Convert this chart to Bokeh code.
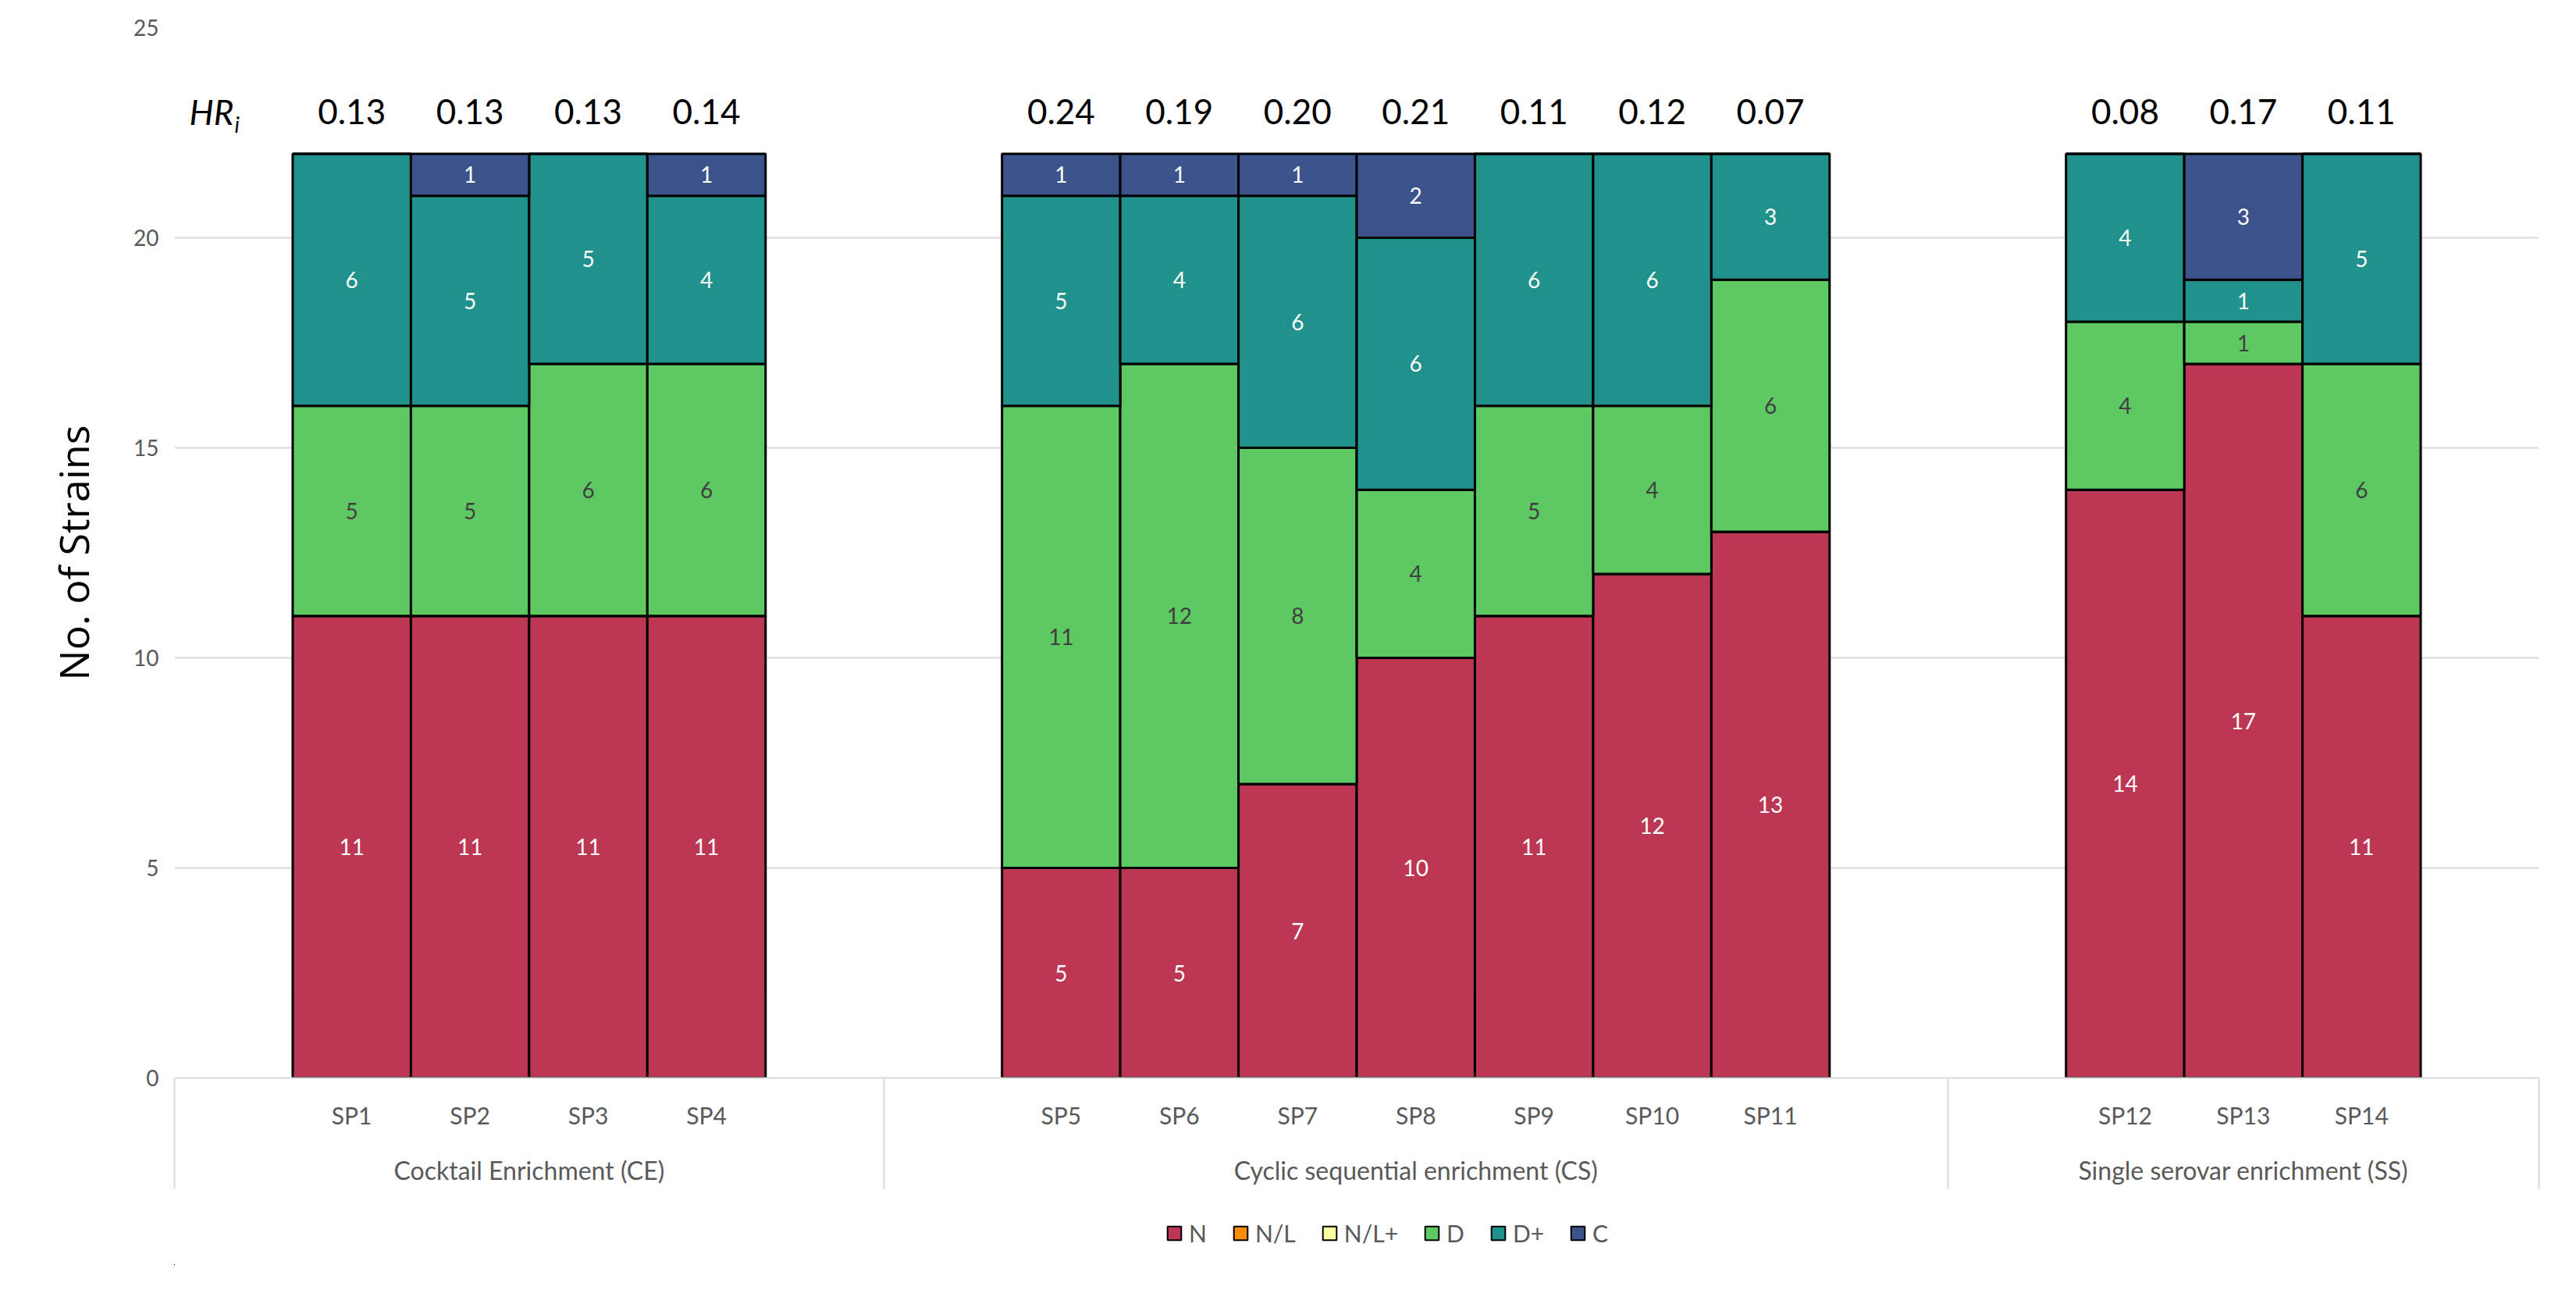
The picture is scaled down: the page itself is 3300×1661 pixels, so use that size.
from bokeh.plotting import figure
from bokeh.layouts import column
from bokeh.models import (ColumnDataSource, FixedTicker, LinearAxis, Range1d, Legend,
                          LegendItem, Grid)
from bokeh.core.properties import value
from bokeh.embed import file_html
from bokeh.resources import INLINE

# ---------------- data ----------------
groups = ["Cocktail Enrichment (CE)", "Cyclic sequential enrichment (CS)",
          "Single serovar enrichment (SS)"]
group_samples = [["SP1", "SP2", "SP3", "SP4"],
                 ["SP5", "SP6", "SP7", "SP8", "SP9", "SP10", "SP11"],
                 ["SP12", "SP13", "SP14"]]
series_names = ["N", "N/L", "N/L+", "D", "D+", "C"]
N_vals   = [11, 11, 11, 11, 5, 5, 7, 10, 11, 12, 13, 14, 17, 11]
NL_vals  = [0, 0, 0, 0, 0, 0, 0, 0, 0, 0, 0, 0, 0, 0]
NLp_vals = [0, 0, 0, 0, 0, 0, 0, 0, 0, 0, 0, 0, 0, 0]
D_vals   = [5, 5, 6, 6, 11, 12, 8, 4, 5, 4, 6, 4, 1, 6]
Dp_vals  = [6, 5, 5, 4, 5, 4, 6, 6, 6, 6, 3, 4, 1, 5]
C_vals   = [0, 1, 0, 1, 1, 1, 1, 2, 0, 0, 0, 0, 3, 0]
HR_vals  = [0.13, 0.13, 0.13, 0.14, 0.24, 0.19, 0.20, 0.21, 0.11, 0.12, 0.07, 0.08, 0.17, 0.11]
y_ticks = [0, 5, 10, 15, 20, 25]

# ---------------- styles ----------------
colors = {"N": "#BC3754", "N/L": "#F98C0A", "N/L+": "#FCFFA4",
          "D": "#5EC962", "D+": "#21918C", "C": "#3B528B"}
label_colors = {"N": "white", "N/L": "#404040", "N/L+": "#404040",
                "D": "#404040", "D+": "white", "C": "white"}
FONT = "Lato"
GRAY = "#595959"
LIGHT = "#D9D9D9"

# ---------------- category positions (one empty slot around each group) ----------------
samples, xpos, group_centers, separators = [], [], [], []
slot = 0
separators.append(slot - 0.5)
for g, names in zip(groups, group_samples):
    start = slot
    slot += 1
    for nm in names:
        samples.append(nm)
        xpos.append(slot)
        slot += 1
    slot += 1
    group_centers.append((start + slot - 1) / 2)
    separators.append(slot - 0.5)
n_slots = slot

p = figure(width=3284, height=1530, output_backend="svg", toolbar_location=None,
           x_range=Range1d(-0.5, n_slots - 0.5), y_range=Range1d(0, 25),
           x_axis_type=None, y_axis_type=None,
           min_border_left=223, min_border_right=32, min_border_top=35, min_border_bottom=150)
p.outline_line_color = None
p.background_fill_color = "white"
p.border_fill_color = "white"

# y axis
yaxis = LinearAxis(ticker=FixedTicker(ticks=y_ticks), axis_line_color=None,
                   major_tick_line_color=None, minor_tick_line_color=None,
                   major_tick_out=0, major_tick_in=0, minor_tick_out=0, minor_tick_in=0,
                   major_label_text_font=FONT, major_label_text_font_size="28px",
                   major_label_text_color=GRAY, major_label_standoff=20,
                   axis_label="No. of Strains", axis_label_text_font="Open Sans",
                   axis_label_text_font_size="52px", axis_label_text_font_style="normal",
                   axis_label_text_color="black", axis_label_standoff=39)
p.add_layout(yaxis, "left")
p.add_layout(Grid(dimension=1, ticker=yaxis.ticker, grid_line_color=LIGHT, grid_line_width=2))

# x axis (sample labels) with group separators as minor ticks
xaxis = LinearAxis(ticker=FixedTicker(ticks=xpos, minor_ticks=separators),
                   major_label_overrides={x: s for x, s in zip(xpos, samples)},
                   axis_line_color=LIGHT, axis_line_width=2,
                   major_tick_line_color=None, major_tick_out=0, major_tick_in=0,
                   minor_tick_line_color=LIGHT, minor_tick_line_width=2,
                   minor_tick_in=0, minor_tick_out=142,
                   major_label_text_font=FONT, major_label_text_font_size="30px",
                   major_label_text_color=GRAY, major_label_standoff=-113)
p.add_layout(xaxis, "below")
gaxis = LinearAxis(ticker=FixedTicker(ticks=group_centers, minor_ticks=[]),
                   major_label_overrides={x: g for x, g in zip(group_centers, groups)},
                   axis_line_color=None, major_tick_line_color=None, minor_tick_line_color=None,
                   major_tick_out=0, major_tick_in=0, minor_tick_out=0, minor_tick_in=0,
                   major_label_text_font=FONT, major_label_text_font_size="32px",
                   major_label_text_color=GRAY, major_label_standoff=30)
p.add_layout(gaxis, "below")

# stacked bars
all_vals = [N_vals, NL_vals, NLp_vals, D_vals, Dp_vals, C_vals]
bottom = [0] * len(samples)
sources = {}
for name, vals in zip(series_names, all_vals):
    tops = [b + v for b, v in zip(bottom, vals)]
    src = ColumnDataSource(dict(x=xpos, bottom=list(bottom), top=tops))
    sources[name] = src
    p.vbar(x="x", bottom="bottom", top="top", width=1.0, source=src,
           fill_color=colors[name], line_color="black", line_width=3)
    lx = [x for x, v in zip(xpos, vals) if v > 0]
    ly = [b + v / 2 for b, v in zip(bottom, vals) if v > 0]
    lt = [str(v) for v in vals if v > 0]
    p.text(x=lx, y=ly, text=lt, text_font=value(FONT),
           text_font_size="28px", text_align="center", text_baseline="middle",
           text_color=label_colors[name])
    bottom = tops

# HR_i row
hr_src = ColumnDataSource(dict(x=xpos, y=[23] * len(xpos), text=[f"{v:.2f}" for v in HR_vals]))
p.text(x="x", y="y", text="text", source=hr_src, text_font=value(FONT),
       text_font_size="44px", text_align="center", text_baseline="middle", text_color="black")
p.text(x=[-0.375], y=[23], text=["HR"], text_font=value(FONT), text_font_style="italic",
       text_font_size="44px", text_align="left", text_baseline="middle", text_color="black")
p.text(x=[-0.375], y=[23], text=["i"], x_offset=58, y_offset=16, text_font=value(FONT),
       text_font_style="italic", text_font_size="28px", text_align="left",
       text_baseline="middle", text_color="black")

# legend strip below the chart (same data sources, view range kept away from the bars)
pl = figure(width=3284, height=90, output_backend="svg", toolbar_location=None,
            x_range=Range1d(100, 101), y_range=Range1d(100, 101),
            x_axis_type=None, y_axis_type=None, min_border=0)
pl.outline_line_color = None
pl.background_fill_color = "white"
pl.border_fill_color = "white"
leg_renderers = {}
for name in series_names:
    leg_renderers[name] = pl.vbar(x="x", bottom="bottom", top="top", width=1.0,
                                  source=sources[name], fill_color=colors[name],
                                  line_color="black", line_width=2)
legend = Legend(items=[LegendItem(label=n, renderers=[leg_renderers[n]]) for n in series_names],
                orientation="horizontal", location=(1270, 23),
                label_text_font=FONT, label_text_font_size="30px", label_text_color=GRAY,
                glyph_width=22, glyph_height=22, label_standoff=8, spacing=32,
                border_line_color=None, background_fill_alpha=0, padding=4, margin=0)
pl.add_layout(legend)

open("out.html", "w").write(file_html(column(p, pl, spacing=0), INLINE))
